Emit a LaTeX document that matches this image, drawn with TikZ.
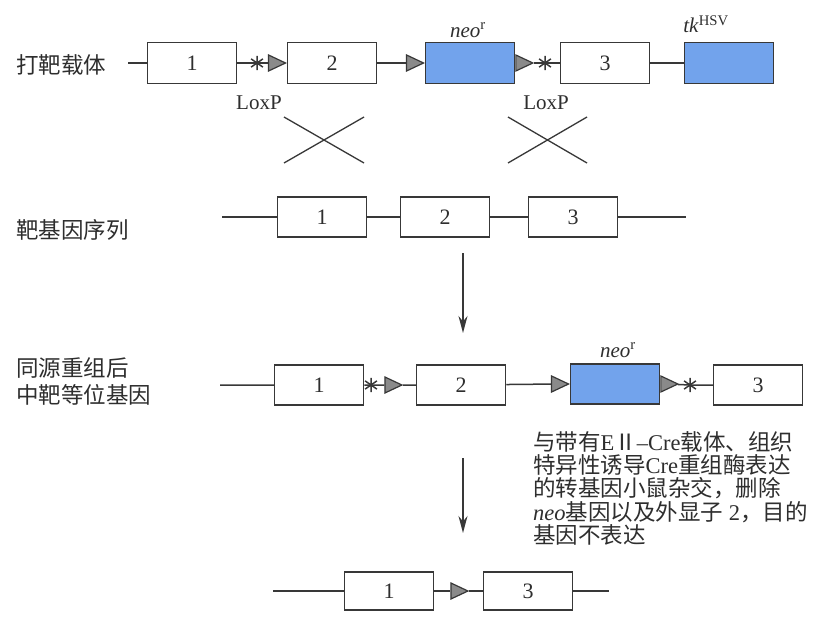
\documentclass[tikz,border=0pt]{standalone}
\usepackage{fontspec}
\setmainfont{Liberation Serif}
\newfontfamily\cjk{Noto Sans CJK SC}
\usetikzlibrary{shapes.geometric, arrows.meta, positioning}
\definecolor{linec}{HTML}{383838}
\definecolor{neoblue}{HTML}{72A3EC}
\definecolor{loxgray}{HTML}{8A8A8A}
\definecolor{txt}{HTML}{2E2E2E}

\begin{document}
\begin{tikzpicture}[x=1pt, y=-1pt, >=Stealth]
    % Styles
    \tikzstyle{exon} = [draw=linec, rectangle, line width=1.5pt, minimum width=89pt, minimum height=41pt, fill=white, text=txt, inner sep=0pt, font=\fontsize{22}{24}\selectfont]
    \tikzstyle{cassette} = [exon, fill=neoblue]
    \tikzstyle{loxp} = [draw=linec, fill=loxgray, line width=1.2pt, isosceles triangle, isosceles triangle apex angle=60, isosceles triangle stretches, minimum width=16pt, minimum height=17pt, inner sep=0pt]
    \tikzstyle{starmark} = [circle, minimum size=14pt, inner sep=0pt]
    \tikzstyle{dna} = [draw=linec, line width=1.5pt]
    \tikzstyle{rowlabel} = [anchor=west, align=left, text=txt, inner sep=0pt, font=\cjk\fontsize{22.5}{27}\selectfont]
    \tikzstyle{genelabel} = [text=txt, inner sep=0pt, font=\fontsize{21}{24}\selectfont]
    \tikzstyle{flow} = [draw=linec, line width=1.5pt, -{Stealth[length=17pt, width=9pt]}]

    \fill[white] (0,0) rectangle (820,632);

    % Targeting vector
    \node[rowlabel] (lblVec) at (16,65) {打靶载体};
    \coordinate (vec0) at (128,63);
    \node[exon] (vec1) at (192,63) {1};
    \node[starmark] (vecS1) at (257,63) {};
    \node[exon] (vec2) at (332,63) {2};
    \node[loxp, left=0pt of vec2] (vecT1) {};
    \node[cassette] (vecNeo) at (470,63) {};
    \node[loxp, left=0pt of vecNeo] (vecT2) {};
    \node[loxp, right=0pt of vecNeo] (vecT3) {};
    \node[starmark] (vecS2) at (545,63) {};
    \node[exon] (vec3) at (605,63) {3};
    \node[cassette] (vecTk) at (729,63) {};
    \node[genelabel] (neoLbl) at (468,30) {\textit{neo}\textsuperscript{r}};
    \node[genelabel] (tkLbl) at (706,24) {\textit{tk}\textsuperscript{HSV}};
    \node[genelabel] (lox1) at (259,103) {LoxP};
    \node[genelabel] (lox2) at (546,103) {LoxP};

    \draw[dna] (vec0) -- (vec1) (vec1) -- (vecS1.center) -- (vecT1) (vec2) -- (vecT2)
        (vecT3) -- (vecS2.center) -- (vec3) (vec3) -- (vecTk);

    % crossing over
    \draw[linec, line width=1.3pt] (284,117) -- (364,163) (284,163) -- (364,117);
    \draw[linec, line width=1.3pt] (508,117) -- (587,163) (508,163) -- (587,117);

    % Target gene
    \node[rowlabel] (lblTgt) at (16,230) {靶基因序列};
    \coordinate (tgt0) at (222,217);
    \coordinate (tgtE) at (686,217);
    \node[exon, minimum height=40pt] (tgt1) at (322,217) {1};
    \node[exon, minimum height=40pt] (tgt2) at (445,217) {2};
    \node[exon, minimum height=40pt] (tgt3) at (573,217) {3};
    \draw[dna] (tgt0) -- (tgt1) -- (tgt2) -- (tgt3) -- (tgtE);

    \coordinate (arrA1) at (463,253);
    \coordinate (arrA2) at (463,333);
    \draw[flow] (arrA1) -- (arrA2);

    % Recombined allele
    \node[rowlabel] (lblHom) at (16,381) {同源重组后\\中靶等位基因};
    \coordinate (hom0) at (220,385);
    \node[exon, minimum height=40pt] (hom1) at (319,385) {1};
    \node[starmark] (homS1) at (371,385) {};
    \node[loxp] (homT1) at (390,385) {};
    \node[exon, minimum height=40pt] (hom2) at (461,385) {2};
    \node[cassette, minimum height=40pt] (homNeo) at (615,384) {};
    \node[loxp, left=0pt of homNeo] (homT2) {};
    \node[loxp, right=0pt of homNeo] (homT3) {};
    \node[starmark] (homS2) at (690,385) {};
    \node[exon, minimum height=40pt] (hom3) at (758,385) {3};
    \node[genelabel] (neoLbl2) at (618,350) {\textit{neo}\textsuperscript{r}};

    \draw[dna] (hom0) -- (hom1) (hom1) -- (homS1.center) -- (homT1) (homT1) -- (hom2)
        (hom2) -- (homT2) (homT3) -- (homS2.center) -- (hom3);

    \foreach \s in {vecS1, vecS2, homS1, homS2}
        \draw[linec, line width=1.5pt] (\s.90) -- (\s.270) (\s.35) -- (\s.215) (\s.145) -- (\s.325);

    % Cre deletion
    \node[anchor=north west, align=left, text=txt, inner sep=0pt, font=\fontsize{22.5}{23.3}\selectfont] (note) at (533,431)
        {{\cjk 与带有}E{\cjk Ⅱ}–Cre{\cjk 载体、组织}\\
         {\cjk 特异性诱导}Cre{\cjk 重组酶表达}\\
         {\cjk 的转基因小鼠杂交，删除}\\
         \textit{neo}{\cjk 基因以及外显子} 2{\cjk ，目的}\\
         {\cjk 基因不表达}};

    \coordinate (arrB1) at (463,458);
    \coordinate (arrB2) at (463,533);
    \draw[flow] (arrB1) -- (arrB2);

    \coordinate (del0) at (273,591);
    \coordinate (delE) at (609,591);
    \node[exon, minimum height=38pt] (del1) at (389,591) {1};
    \node[loxp] (delT) at (456,591) {};
    \node[exon, minimum height=38pt] (del3) at (528,591) {3};
    \draw[dna] (del0) -- (del1) (del1) -- (delT) (delT) -- (del3) (del3) -- (delE);
\end{tikzpicture}
\end{document}
